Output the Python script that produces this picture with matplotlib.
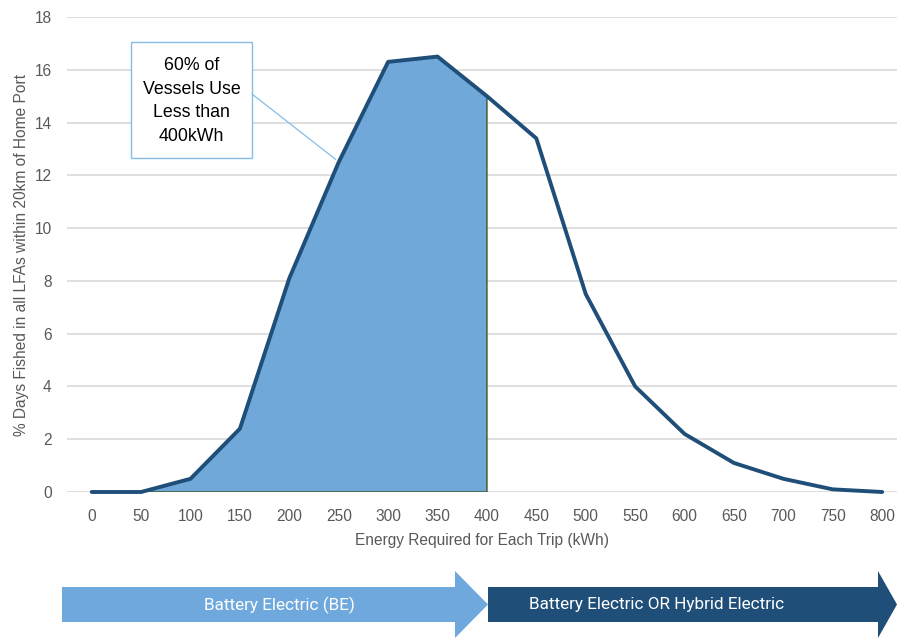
import matplotlib
matplotlib.use("Agg")
import matplotlib.pyplot as plt
from matplotlib.patches import Polygon, Rectangle, ConnectionPatch
import numpy as np

energy_kwh = [0, 50, 100, 150, 200, 250, 300, 350, 400, 450, 500, 550, 600, 650, 700, 750, 800]
pct_days = [0, 0, 0.5, 2.4, 8.1, 12.5, 16.3, 16.5, 15.0, 13.4, 7.5, 4.0, 2.2, 1.1, 0.5, 0.1, 0.0]
yticks = [0, 2, 4, 6, 8, 10, 12, 14, 16, 18]
fill_start, fill_end = 50, 400
annotation_text = "60% of\nVessels Use\nLess than\n400kWh"
annotation_point = (247, 12.6)
arrow_labels = ["Battery Electric (BE)", "Battery Electric OR Hybrid Electric"]

W, H = 897, 638
fig = plt.figure(figsize=(W / 100, H / 100), dpi=100)
plt.rcParams['font.family'] = ['Liberation Sans', 'DejaVu Sans']

def fr(x0, y0, x1, y1):
    return [x0 / W, 1 - y1 / H, (x1 - x0) / W, (y1 - y0) / H]

ax = fig.add_axes(fr(67, 17, 897, 492))
ax.set_xlim(-25, 815)
ax.set_ylim(0, 18)
for s in ax.spines.values():
    s.set_visible(False)
ax.set_yticks(yticks)
ax.set_xticks(energy_kwh)
ax.grid(axis='y', color='#d9d9d9', lw=1.2)
ax.set_axisbelow(True)
ax.tick_params(length=0, labelsize=11.2, colors='#595959')
ax.tick_params(axis='x', pad=12)
ax.tick_params(axis='y', pad=11)

# shaded area
xs = np.array(energy_kwh)
ys = np.array(pct_days)
mask = (xs >= fill_start) & (xs <= fill_end)
poly_pts = list(zip(xs[mask], ys[mask])) + [(fill_end, 0), (fill_start, 0)]
ax.add_patch(Polygon(poly_pts, closed=True, facecolor='#6fa8d9', edgecolor='#375623', lw=1.0, zorder=2))

ax.plot(energy_kwh, pct_days, color='#1f4e79', lw=2.8, solid_capstyle='round', solid_joinstyle='round', zorder=3, clip_on=False)

ax.set_xlabel("Energy Required for Each Trip (kWh)", fontsize=11.2, color='#595959', labelpad=7)
ax.set_ylabel("% Days Fished in all LFAs within 20km of Home Port", fontsize=11.2, color='#595959', labelpad=4)

# overlay in pixel coords
ov = fig.add_axes([0, 0, 1, 1], facecolor='none')
ov.set_xlim(0, W)
ov.set_ylim(H, 0)
ov.axis('off')

# annotation box
ov.add_patch(Rectangle((131, 42), 121, 116, facecolor='white', edgecolor='#85bde6', lw=1.0, zorder=5))
ov.text(191.5, 101, annotation_text, ha='center', va='center', fontsize=12.8, color='black',
        linespacing=1.5, zorder=6)
con = ConnectionPatch(xyA=(252, 94), coordsA=ov.transData, xyB=annotation_point, coordsB=ax.transData,
                      color='#85bde6', lw=0.9, zorder=4)
fig.add_artist(con)

def arrow(x0, xh, xt, by0, by1, hy0, hy1, color):
    pts = [(x0, by0), (xh, by0), (xh, hy0), (xt, (hy0 + hy1) / 2), (xh, hy1), (xh, by1), (x0, by1)]
    ov.add_patch(Polygon(pts, closed=True, facecolor=color, edgecolor='none'))

arrow(62, 455, 488, 587, 622, 571, 638, '#6fa8dc')
arrow(488, 878, 897, 587, 622, 571, 638, '#1f4e79')
ov.text(279, 605, arrow_labels[0], ha='center', va='center', color='white', fontsize=12.3, family=['Roboto', 'DejaVu Sans'])
ov.text(657, 605, arrow_labels[1], ha='center', va='center', color='white', fontsize=12.3, family=['Roboto', 'DejaVu Sans'])

fig.savefig("out.png", dpi=100)
